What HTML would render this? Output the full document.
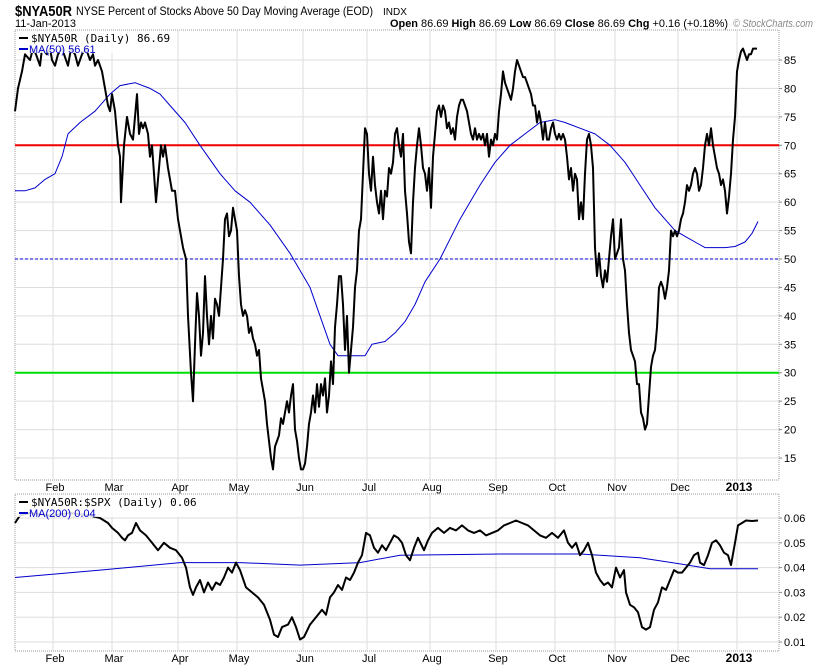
<!DOCTYPE html><html><head><style>body{margin:0;background:#fff}svg{display:block;font-family:"Liberation Sans",sans-serif}</style></head><body>
<svg id="s" width="820" height="668" xmlns="http://www.w3.org/2000/svg">
<text x="15" y="16" font-size="15" font-weight="bold" textLength="57" lengthAdjust="spacingAndGlyphs">$NYA50R</text>
<text x="76" y="15" font-size="12" textLength="297" lengthAdjust="spacingAndGlyphs">NYSE Percent of Stocks Above 50 Day Moving Average (EOD)</text>
<text x="383" y="15" font-size="10">INDX</text>
<text x="15" y="27" font-size="11">11-Jan-2013</text>
<text x="390" y="27" font-size="11" font-weight="bold" textLength="338" lengthAdjust="spacingAndGlyphs">Open <tspan font-weight="normal">86.69</tspan> High <tspan font-weight="normal">86.69</tspan> Low <tspan font-weight="normal">86.69</tspan> Close <tspan font-weight="normal">86.69</tspan> Chg <tspan font-weight="normal">+0.16 (+0.18%)</tspan></text>
<text x="733" y="27" font-size="11" fill="#888" font-style="italic" textLength="80" lengthAdjust="spacingAndGlyphs">© StockCharts.com</text>
<g id="g"></g>
</svg>
<script>
const g=document.getElementById('g');let h='';
const L=15,R=779,T1=30,B1=480,T2=494,B2=651;
const y1=v=>60+(85-v)*5.686, y2=v=>518+(0.06-v)*2480;
h+=`<rect x="${L}" y="${T1}" width="${R-L}" height="${B1-T1}" fill="#fff" stroke="#999" stroke-dasharray="1,1"/>`;
h+=`<rect x="${L}" y="${T2}" width="${R-L}" height="${B2-T2}" fill="#fff" stroke="#999" stroke-dasharray="1,1"/>`;
const gx=[53,112,178,237,303,367,430,496,555,615,678,737],lab=['Feb','Mar','Apr','May','Jun','Jul','Aug','Sep','Oct','Nov','Dec','2013'];
gx.forEach((x,i)=>{h+=`<line x1="${x}" y1="${T1}" x2="${x}" y2="${B1}" stroke="#ddd"/><line x1="${x}" y1="${T2}" x2="${x}" y2="${B2}" stroke="#ddd"/>`;
const b=i==11?'font-weight="bold" font-size="12"':'font-size="11"';
h+=`<text x="${x+2}" y="491" text-anchor="middle" ${b}>${lab[i]}</text><text x="${x+2}" y="662" text-anchor="middle" ${b}>${lab[i]}</text>`});
for(let v=15;v<=85;v+=5){const y=y1(v);h+=`<line x1="${L}" y1="${y}" x2="${R}" y2="${y}" stroke="#ddd"/><line x1="${R}" y1="${y}" x2="${R+3}" y2="${y}" stroke="#888"/><text x="784" y="${y+4}" font-size="11">${v}</text>`}
for(let i=1;i<=6;i++){const v=i/100,y=y2(v);h+=`<line x1="${L}" y1="${y}" x2="${R}" y2="${y}" stroke="#ddd"/><line x1="${R}" y1="${y}" x2="${R+3}" y2="${y}" stroke="#888"/><text x="784" y="${y+4}" font-size="11">${v.toFixed(2)}</text>`}
h+=`<line x1="${L}" y1="${y1(70)}" x2="${R}" y2="${y1(70)}" stroke="#e00" stroke-width="2"/>`;
h+=`<line x1="${L}" y1="${y1(30)}" x2="${R}" y2="${y1(30)}" stroke="#0d0" stroke-width="2"/>`;
h+=`<line x1="${L}" y1="${y1(50)}" x2="${R}" y2="${y1(50)}" stroke="#00c" stroke-dasharray="3,2"/>`;
const main=[15,76,18,80,22,83,25,86,30,85,33,87,36,86,40,84,42,87,47,86,50,87,52,85,55,84,58,86,62,87,68,84,71,87,75,86,78,84,82,86,86,87,90,85,93,86,95,84,98,85,102,83,105,80,108,77,110,76,112,79,115,76,118,70,120,68,121,60,124,70,127,75,130,72,133,71,135,75,137,79,139,72,141,74,143,73,145,74,148,72,150,68,152,70,154,65,156,60,158,64,161,70,163,68,165,70,168,66,170,64,172,62,175,62,178,57,180,55,183,52,186,50,188,40,191,30,193,25,195,35,197,44,199,40,201,33,203,37,205,47,207,40,209,35,211,40,213,36,215,43,217,42,219,40,221,45,223,50,225,57,227,58,229,54,231,55,233,59,235,57,237,55,239,47,241,42,243,40,245,41,247,40,249,37,251,38,253,36,255,35,257,33,259,34,261,29,263,27,265,25,267,21,269,18,271,15,273,13,275,17,277,18,279,19,281,22,283,21,285,23,287,25,289,23,291,26,293,28,295,20,297,18,299,15,301,13,303,13,305,14,307,17,309,21,311,23,313,26,315,23,317,28,319,24,321,28,323,26,325,29,327,23,329,26,331,32,333,28,335,38,337,42,339,47,341,47,343,42,345,34,347,40,349,30,351,34,353,38,355,45,357,48,359,55,361,57,363,65,365,73,367,72,369,65,371,62,373,68,375,63,377,60,379,58,381,62,383,57,385,62,387,61,389,66,391,65,393,67,395,72,397,73,399,70,401,68,403,72,405,62,407,58,409,53,411,51,413,60,415,66,417,70,419,73,421,70,423,66,425,65,427,62,429,66,431,59,433,68,435,72,437,76,439,77,441,75,443,77,445,76,447,73,449,74,451,72,453,73,455,71,457,75,459,77,461,78,463,78,465,77,467,76,469,74,471,72,473,71,475,73,477,71,479,72,481,71,483,72,485,70,487,72,489,68,491,71,493,70,495,72,497,71,499,76,501,79,503,83,505,81,507,80,509,79,511,78,513,80,515,83,517,85,519,84,521,83,523,82,525,82,527,81,529,80,531,79,533,77,535,77,537,74,539,76,541,74,543,71,545,74,547,71,549,71,551,73,553,74,555,72,557,71,559,72,561,71,563,72,565,71,567,68,569,64,571,66,573,62,575,65,577,64,579,57,581,60,583,57,585,65,587,71,589,72,591,70,593,66,595,52,597,47,599,51,601,47,603,45,605,48,607,46,609,50,611,54,613,57,615,50,617,51,619,52,621,57,623,50,625,48,627,42,629,37,631,34,633,33,635,32,637,28,639,28,641,23,643,22,645,20,647,21,649,26,651,31,653,33,655,34,657,38,659,45,661,46,663,45,665,43,667,45,669,48,671,55,673,54,675,55,677,54,679,55,681,57,683,58,685,60,687,63,689,62,691,63,693,65,695,66,697,65,699,62,701,63,703,66,705,70,707,72,709,70,711,73,713,70,715,68,717,66,719,65,721,63,723,64,725,62,727,58,729,61,731,65,733,71,735,75,737,83,739,85,741,86.5,743,87,745,86,747,85,749,86,751,86,753,87,755,87,757,87];
const ma=[15,62,25,62,35,62.5,45,64,55,65,62,68,68,72,80,74,95,76,110,79,120,80.5,135,81,150,80,160,79,170,77,185,74,200,70,220,65,235,62,250,60,270,56,290,51,310,45,320,40,330,35,338,33,345,33,355,33,365,33,372,35,385,35.5,395,37,405,39,415,42,425,46,440,50,460,57,480,63,495,67,510,70,525,72,540,74,555,74.5,565,74,580,73,595,72,610,70,625,67,640,63,655,59,665,57,675,55,685,54,695,53,705,52,715,52,725,52,735,52.2,745,53,752,54.5,758,56.6];
const sub=[15,0.058,20,0.061,30,0.062,50,0.061,70,0.062,90,0.061,100,0.06,108,0.058,112,0.056,118,0.054,122,0.052,125,0.051,128,0.053,132,0.054,136,0.058,140,0.055,146,0.053,152,0.05,158,0.047,164,0.05,170,0.048,176,0.047,182,0.044,186,0.04,190,0.032,193,0.029,196,0.032,200,0.035,204,0.03,208,0.034,212,0.031,216,0.034,220,0.033,224,0.036,228,0.04,232,0.038,236,0.042,240,0.039,246,0.032,252,0.03,258,0.028,264,0.025,270,0.019,274,0.013,278,0.012,282,0.016,288,0.017,292,0.02,296,0.016,300,0.011,304,0.012,310,0.017,316,0.02,322,0.023,326,0.021,330,0.028,334,0.03,338,0.033,342,0.031,346,0.036,350,0.035,354,0.038,358,0.042,362,0.045,366,0.054,370,0.053,374,0.048,378,0.046,382,0.049,386,0.047,390,0.05,394,0.053,398,0.052,402,0.05,406,0.045,410,0.043,414,0.048,418,0.052,424,0.047,428,0.051,432,0.054,438,0.056,444,0.054,450,0.056,456,0.055,462,0.057,468,0.055,474,0.054,480,0.055,486,0.053,492,0.054,498,0.055,504,0.057,510,0.058,516,0.059,522,0.058,528,0.057,534,0.055,540,0.053,546,0.052,552,0.054,558,0.052,564,0.055,568,0.05,572,0.048,576,0.05,580,0.045,584,0.047,588,0.05,592,0.045,596,0.038,600,0.035,604,0.033,608,0.034,612,0.032,616,0.04,620,0.036,624,0.039,626,0.03,630,0.025,634,0.024,638,0.022,642,0.016,646,0.015,650,0.016,654,0.023,658,0.026,662,0.032,666,0.031,670,0.035,674,0.039,678,0.038,682,0.038,686,0.04,690,0.042,694,0.045,698,0.046,700,0.042,704,0.041,708,0.045,712,0.05,716,0.051,720,0.049,724,0.046,728,0.045,731,0.041,735,0.05,738,0.057,742,0.058,746,0.059,752,0.0588,758,0.059];
const ma2=[15,0.036,100,0.039,180,0.042,240,0.042,300,0.041,360,0.042,400,0.045,500,0.0455,580,0.0455,640,0.044,680,0.0415,710,0.0395,758,0.0395];
const pl=(a,f,c,w)=>{let p=[];for(let i=0;i<a.length;i+=2)p.push(a[i]+','+f(a[i+1]).toFixed(1));return `<polyline points="${p.join(' ')}" fill="none" stroke="${c}" stroke-width="${w}" stroke-linejoin="round"/>`};
h+=pl(ma,y1,'#00c',1)+pl(main,y1,'#000',2)+pl(ma2,y2,'#00c',1)+pl(sub,y2,'#000',2);
h+=`<rect x="17" y="31" width="145" height="22" fill="#fff" opacity="0.85"/>`;
h+=`<line x1="19" y1="38" x2="28" y2="38" stroke="#000" stroke-width="2"/><text x="31" y="42" font-size="11" font-family="DejaVu Sans Mono,monospace">$NYA50R (Daily) 86.69</text>`;
h+=`<line x1="19" y1="49" x2="28" y2="49" stroke="#00c" stroke-width="2"/><text x="29" y="53" font-size="11" fill="#00c">MA(50) 56.61</text>`;
h+=`<rect x="17" y="495" width="175" height="22" fill="#fff" opacity="0.85"/>`;
h+=`<line x1="19" y1="502" x2="28" y2="502" stroke="#000" stroke-width="2"/><text x="31" y="506" font-size="11" font-family="DejaVu Sans Mono,monospace">$NYA50R:$SPX (Daily) 0.06</text>`;
h+=`<line x1="19" y1="513" x2="28" y2="513" stroke="#00c" stroke-width="2"/><text x="29" y="517" font-size="11" fill="#00c">MA(200) 0.04</text>`;
g.innerHTML=h;
</script></body></html>
